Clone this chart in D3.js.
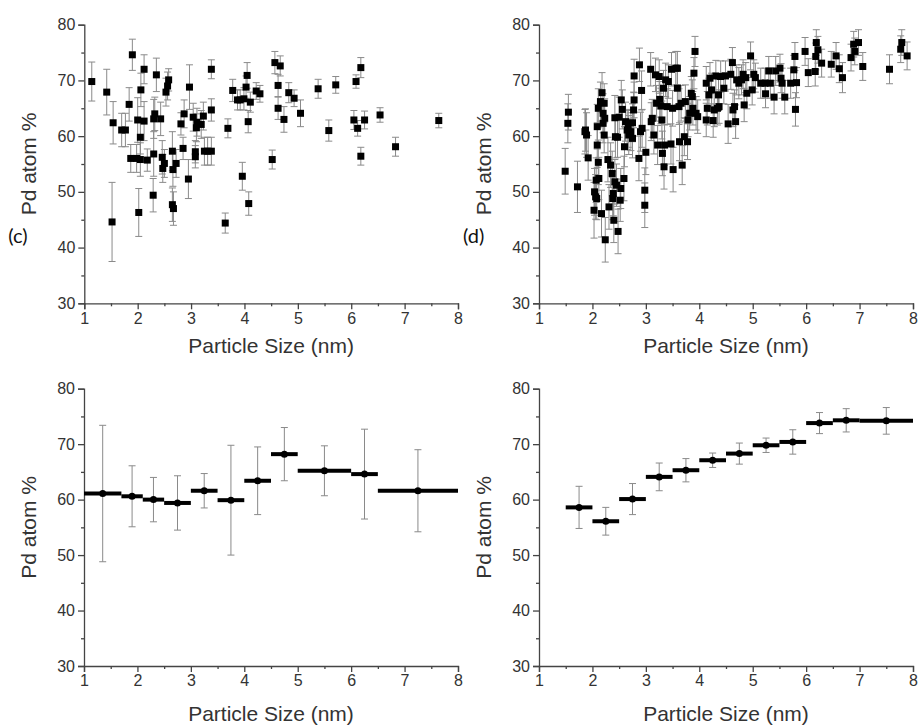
<!DOCTYPE html>
<meta charset="utf-8"/>
<style>
  body { margin: 0; background: #fff; }
  .axis path, .axis line { stroke: #444; stroke-width: 1.3px; }
  .axis text { fill: #333; font-family: Arial, "Liberation Sans", sans-serif; font-size: 16px; }
  .title { fill: #333; font-family: Arial, "Liberation Sans", sans-serif; font-size: 21px; }
  .tag { fill: #111; font-family: Lato, "Open Sans", sans-serif; font-size: 20px; }
  .err { stroke: #8a8a8a; stroke-width: 1px; }
</style>
<svg width="919" height="726"></svg>
<script src="https://d3js.org/d3.v7.min.js"></script>
<script>

// panel (c): particle size (nm), Pd atom %, error
var scatterC = [
  [1.14,69.8,3.5],[1.42,67.9,4.1],[1.52,44.6,7.1],[1.54,62.4,3.8],[1.70,61.1,3.0],[1.77,61.1,3.0],
  [1.84,65.7,3.0],[1.90,74.6,2.8],[1.87,56.0,2.5],[1.98,56.0,2.5],[2.00,62.9,4.0],[2.02,46.3,4.3],
  [2.05,59.8,3.0],[2.06,68.3,3.0],[2.05,55.8,3.0],[2.12,72.0,2.6],[2.12,62.7,3.5],[2.18,55.7,2.0],
  [2.29,49.4,3.0],[2.30,56.8,4.0],[2.30,63.1,3.5],[2.32,64.0,3.0],[2.35,71.0,3.0],[2.43,63.1,3.0],
  [2.46,56.2,3.0],[2.47,54.2,2.5],[2.50,55.1,2.5],[2.53,67.9,2.5],[2.56,69.0,2.5],[2.58,70.1,2.0],
  [2.65,47.7,3.0],[2.67,47.0,3.0],[2.65,57.3,3.5],[2.66,54.0,3.0],[2.72,55.1,2.5],[2.81,62.2,2.0],
  [2.85,57.8,2.0],[2.87,64.0,2.5],[2.97,68.8,4.0],[2.95,52.3,3.5],[3.04,63.4,2.5],[3.08,57.2,2.0],
  [3.08,56.3,2.0],[3.10,61.5,2.5],[3.11,62.5,2.5],[3.19,62.1,2.5],[3.23,63.6,2.5],[3.25,57.3,2.5],
  [3.31,57.3,2.5],[3.38,57.3,2.5],[3.38,64.7,2.0],[3.38,72.0,1.7],[3.64,44.4,1.8],[3.69,61.4,1.7],
  [3.78,68.2,2.0],[3.87,66.5,1.8],[3.92,66.5,1.8],[3.96,52.8,2.5],[3.99,66.7,2.0],[4.03,68.8,2.0],
  [4.05,70.9,2.3],[4.07,62.6,2.0],[4.08,47.9,2.1],[4.11,66.1,1.8],[4.22,68.1,1.5],[4.29,67.6,1.5],
  [4.52,55.8,1.7],[4.57,73.2,2.0],[4.67,72.6,1.8],[4.63,69.1,2.0],[4.63,65.0,2.0],[4.74,63.0,2.3],
  [4.83,67.8,1.8],[4.93,66.8,1.5],[5.05,64.1,2.4],[5.38,68.5,1.7],[5.58,61.0,1.9],[5.71,69.2,1.5],
  [6.05,62.9,1.7],[6.09,69.8,1.2],[6.12,61.4,1.4],[6.18,72.3,1.8],[6.18,56.4,1.6],[6.25,62.9,1.6],
  [6.54,63.8,1.3],[6.83,58.1,1.7],[7.64,62.8,1.3]
];

// panel (d)
var scatterD = [
  [1.49,53.7,4.1],[1.54,62.3,3.5],[1.55,64.3,3.2],[1.72,50.9,4.6],[1.86,60.8,4.0],[1.87,61.1,3.8],
  [1.89,60.2,4.0],[1.92,56.1,4.0],[2.03,46.7,5.0],[2.04,50.0,4.2],[2.06,49.1,4.0],[2.07,52.1,4.0],
  [2.08,48.8,3.8],[2.09,61.7,4.0],[2.09,58.4,4.0],[2.11,65.0,3.5],[2.11,55.3,4.0],[2.12,52.4,3.8],
  [2.15,66.2,3.5],[2.17,46.1,4.2],[2.18,67.8,3.6],[2.20,64.1,3.5],[2.20,62.3,3.5],[2.22,65.9,3.5],
  [2.22,60.2,3.2],[2.23,63.2,3.5],[2.24,41.4,4.0],[2.29,55.8,4.0],[2.31,47.3,4.0],[2.34,54.8,4.0],
  [2.37,53.3,4.0],[2.38,48.8,3.8],[2.39,49.7,4.0],[2.40,44.9,4.0],[2.42,51.8,4.0],[2.42,63.3,4.0],
  [2.43,59.9,3.8],[2.45,51.2,3.8],[2.47,59.8,3.6],[2.48,42.9,4.0],[2.50,63.4,3.6],[2.52,48.5,3.8],
  [2.53,50.6,3.6],[2.54,66.5,3.5],[2.56,64.8,3.5],[2.59,52.4,4.0],[2.60,58.1,3.6],[2.62,62.6,3.5],
  [2.65,61.1,3.5],[2.67,61.4,3.4],[2.68,60.2,3.5],[2.72,60.8,3.4],[2.75,59.6,3.5],[2.75,62.4,3.4],
  [2.77,64.7,3.2],[2.78,66.5,3.2],[2.78,70.8,3.0],[2.87,56.0,4.0],[2.88,72.8,3.0],[2.90,60.8,3.5],
  [2.92,68.2,3.5],[2.93,61.4,3.4],[2.98,50.3,4.0],[2.98,47.6,4.0],[3.00,57.1,4.0],[3.09,72.0,3.0],
  [3.10,62.6,3.4],[3.12,63.2,3.4],[3.15,60.2,3.4],[3.18,71.0,3.0],[3.20,65.9,3.2],[3.22,58.4,3.5],
  [3.25,70.7,3.0],[3.26,66.6,3.2],[3.28,65.4,3.2],[3.30,62.9,3.4],[3.31,56.9,4.0],[3.33,68.6,3.2],
  [3.34,54.5,4.0],[3.35,58.4,3.6],[3.37,70.1,3.0],[3.40,65.3,3.2],[3.42,69.8,3.0],[3.47,58.6,3.6],
  [3.48,72.0,3.0],[3.50,65.0,3.2],[3.51,54.0,4.0],[3.56,72.2,3.0],[3.59,72.2,3.0],[3.59,68.6,3.0],
  [3.62,65.3,3.2],[3.63,59.0,3.4],[3.66,65.9,3.2],[3.68,54.8,3.5],[3.72,59.9,3.4],[3.74,66.2,3.0],
  [3.78,59.0,3.2],[3.79,62.9,3.0],[3.82,64.1,3.0],[3.85,67.7,3.0],[3.87,67.1,3.0],[3.88,65.0,3.0],
  [3.90,71.3,2.8],[3.92,75.2,2.7],[3.94,64.1,3.0],[3.97,63.5,3.0],[4.13,62.9,3.0],[4.13,69.5,3.0],
  [4.15,65.0,3.0],[4.18,67.4,3.0],[4.20,70.4,2.8],[4.23,68.3,3.0],[4.26,62.8,3.0],[4.28,64.7,3.0],
  [4.31,70.8,2.8],[4.34,65.0,3.0],[4.36,67.4,2.8],[4.37,65.3,3.0],[4.40,70.7,2.8],[4.46,68.6,2.8],
  [4.49,70.8,2.7],[4.54,62.2,3.5],[4.59,71.1,2.7],[4.62,73.2,2.7],[4.63,64.7,3.0],[4.66,65.3,3.0],
  [4.68,62.6,3.0],[4.70,70.1,2.7],[4.74,69.5,2.8],[4.79,70.1,2.7],[4.82,71.1,2.6],[4.84,65.6,3.0],
  [4.87,70.5,2.7],[4.89,67.7,2.8],[4.96,74.4,2.5],[4.99,68.3,2.7],[5.02,71.1,2.6],[5.05,70.5,2.6],
  [5.15,69.5,2.7],[5.23,69.5,2.7],[5.24,67.6,2.5],[5.30,71.7,2.6],[5.33,69.5,2.7],[5.40,67.0,3.0],
  [5.43,71.7,2.6],[5.51,72.2,2.5],[5.53,70.4,2.6],[5.55,69.5,2.7],[5.60,67.0,3.0],[5.71,69.5,2.7],
  [5.77,71.9,2.6],[5.79,74.3,2.5],[5.80,64.8,3.0],[5.82,69.6,2.7],[5.98,75.2,2.5],[6.04,71.4,2.5],
  [6.17,71.6,2.6],[6.18,74.3,2.4],[6.19,76.8,2.3],[6.22,75.5,2.4],[6.29,73.1,2.5],[6.47,72.9,2.3],
  [6.56,74.4,2.4],[6.62,72.1,2.5],[6.68,70.5,2.7],[6.84,74.1,2.4],[6.89,76.5,2.3],[6.91,75.2,2.4],
  [6.98,76.8,2.3],[7.06,72.5,2.5],[7.56,72.0,2.6],[7.77,75.6,2.4],[7.79,76.8,2.3],[7.89,74.4,2.5]
];

// binned panels: bin edges, bin mean, error
var binLoL  = [1.0, 1.7, 2.1, 2.5, 3.0, 3.5, 4.0, 4.5, 5.0, 6.0, 6.5];
var binHiL  = [1.7, 2.1, 2.5, 3.0, 3.5, 4.0, 4.5, 5.0, 6.0, 6.5, 8.0];
var meanL   = [61.1, 60.6, 60.0, 59.4, 61.6, 59.9, 63.4, 68.2, 65.2, 64.6, 61.6];
var errL    = [12.3, 5.5, 4.0, 4.9, 3.1, 9.9, 6.1, 4.8, 4.5, 8.1, 7.4];

var binLoR  = [1.5, 2.0, 2.5, 3.0, 3.5, 4.0, 4.5, 5.0, 5.5, 6.0, 6.5, 7.0];
var binHiR  = [2.0, 2.5, 3.0, 3.5, 4.0, 4.5, 5.0, 5.5, 6.0, 6.5, 7.0, 8.0];
var meanR   = [58.6, 56.1, 60.1, 64.1, 65.3, 67.1, 68.3, 69.8, 70.4, 73.8, 74.3, 74.2];
var errR    = [3.8, 2.5, 2.8, 2.5, 2.1, 1.3, 1.9, 1.3, 2.2, 1.9, 2.1, 2.4];

var xTicks = [1, 2, 3, 4, 5, 6, 7, 8];
var xMinor = [1.5, 2.5, 3.5, 4.5, 5.5, 6.5, 7.5];
var yTicks = [30, 40, 50, 60, 70, 80];
var yMinor = [35, 45, 55, 65, 75];

var svg = d3.select("svg");

function makePanel (x0, x1, yTop, yBot, tag, titleY) {
  var x = d3.scaleLinear().domain([1, 8]).range([x0, x1]);
  var y = d3.scaleLinear().domain([30, 80]).range([yBot, yTop]);
  var g = svg.append("g");

  g.append("g").attr("class", "axis")
    .attr("transform", "translate(0," + yBot + ")")
    .call(d3.axisBottom(x).tickValues(xTicks).tickSize(6).tickPadding(3).tickFormat(d3.format("d")));
  g.append("g").attr("class", "axis")
    .attr("transform", "translate(0," + yBot + ")")
    .call(d3.axisBottom(x).tickValues(xMinor).tickSize(3).tickFormat(""))
    .select(".domain").remove();
  g.append("g").attr("class", "axis")
    .attr("transform", "translate(" + x0 + ",0)")
    .call(d3.axisLeft(y).tickValues(yTicks).tickSize(6).tickPadding(3));
  g.append("g").attr("class", "axis")
    .attr("transform", "translate(" + x0 + ",0)")
    .call(d3.axisLeft(y).tickValues(yMinor).tickSize(3).tickFormat(""))
    .select(".domain").remove();

  g.append("text").attr("class", "title")
    .attr("text-anchor", "middle")
    .attr("x", (x0 + x1) / 2).attr("y", titleY)
    .text("Particle Size (nm)");
  g.append("text").attr("class", "title")
    .attr("text-anchor", "middle")
    .attr("transform", "translate(" + (x0 - 48) + "," + ((yTop + yBot) / 2) + ") rotate(-90)")
    .text("Pd atom %");
  if (tag) {
    g.append("text").attr("class", "tag")
      .attr("x", x0 - 76).attr("y", 243)
      .text(tag);
  }
  return { g: g, x: x, y: y };
}

function errorBars (p, data, cx, cy, ce, cap) {
  var eb = p.g.append("g").attr("class", "err");
  data.forEach(function (d, i) {
    var xx = p.x(cx(d, i)), lo = p.y(cy(d, i) - ce(d, i)), hi = p.y(cy(d, i) + ce(d, i));
    eb.append("line").attr("x1", xx).attr("x2", xx).attr("y1", lo).attr("y2", hi);
    eb.append("line").attr("x1", xx - cap).attr("x2", xx + cap).attr("y1", lo).attr("y2", lo);
    eb.append("line").attr("x1", xx - cap).attr("x2", xx + cap).attr("y1", hi).attr("y2", hi);
  });
}

function scatter (p, data) {
  errorBars(p, data, function (d) { return d[0]; }, function (d) { return d[1]; }, function (d) { return d[2]; }, 3.5);
  p.g.append("g").selectAll("rect")
    .data(data)
    .enter().append("rect")
    .attr("x", function (d) { return p.x(d[0]) - 3.5; })
    .attr("y", function (d) { return p.y(d[1]) - 3.5; })
    .attr("width", 7).attr("height", 7)
    .attr("fill", "#000");
}

function binned (p, lo, hi, mean, err) {
  var idx = d3.range(mean.length);
  var mid = function (i) { return (lo[i] + hi[i]) / 2; };
  errorBars(p, idx, function (i) { return mid(i); }, function (i) { return mean[i]; }, function (i) { return err[i]; }, 3.5);
  p.g.append("g").selectAll("line")
    .data(idx)
    .enter().append("line")
    .attr("x1", function (i) { return p.x(lo[i]); })
    .attr("x2", function (i) { return p.x(hi[i]); })
    .attr("y1", function (i) { return p.y(mean[i]); })
    .attr("y2", function (i) { return p.y(mean[i]); })
    .attr("stroke", "#000").attr("stroke-width", 4);
  p.g.append("g").selectAll("circle")
    .data(idx)
    .enter().append("circle")
    .attr("cx", function (i) { return p.x(mid(i)); })
    .attr("cy", function (i) { return p.y(mean[i]); })
    .attr("r", 3.5).attr("fill", "#000");
}

var pC = makePanel(84.3, 458, 24.7, 303.3, "(c)", 353);
var pD = makePanel(539, 913, 24.7, 303.3, "(d)", 353);
var pE = makePanel(84, 458, 388.7, 666, null, 721);
var pF = makePanel(539, 913, 388.7, 666, null, 721);

scatter(pC, scatterC);
scatter(pD, scatterD);
binned(pE, binLoL, binHiL, meanL, errL);
binned(pF, binLoR, binHiR, meanR, errR);

</script>
